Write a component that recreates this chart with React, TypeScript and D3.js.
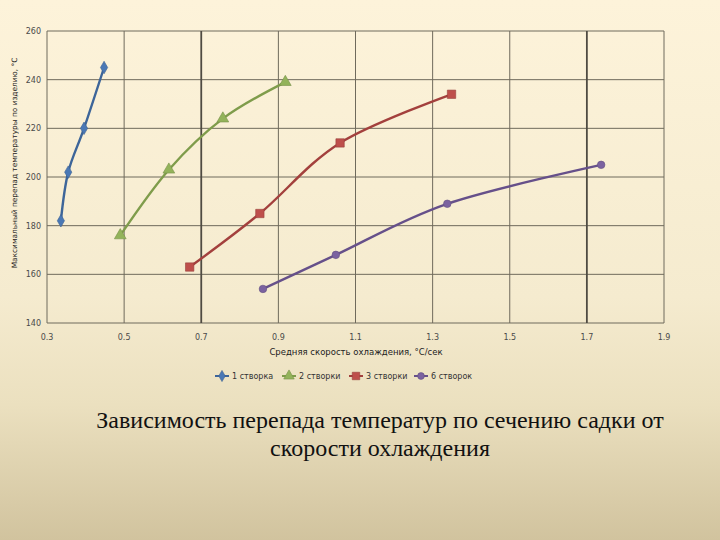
import React from "react";
import * as d3 from "d3";

const xTicks = [0.3, 0.5, 0.7, 0.9, 1.1, 1.3, 1.5, 1.7, 1.9];
const yTicks = [140, 160, 180, 200, 220, 240, 260];

const seriesNames = ["1 створка", "2 створки", "3 створки", "6 створок"];
const s1x = [0.336, 0.355, 0.396, 0.448];
const s1y = [182, 202, 220, 245];
const s2x = [0.49, 0.616, 0.756, 0.918];
const s2y = [176, 203, 224, 239];
const s3x = [0.67, 0.852, 1.06, 1.349];
const s3y = [163, 185, 214, 234];
const s4x = [0.86, 1.049, 1.338, 1.737];
const s4y = [154, 168, 189, 205];

const colors = ["#4a78b5", "#93b35a", "#be4f4b", "#7b62a0"];
const strokes = ["#3d6599", "#7f9c4b", "#a3403d", "#66508a"];
const markers = ["diamond", "triangle", "square", "circle"];

const xTitle = "Средняя скорость охлаждения, °С/сек";
const yTitle = "Максимальный перепад температуры по изделию, °С";
const caption1 = "Зависимость перепада температур по сечению садки от";
const caption2 = "скорости охлаждения";

const W = 720, H = 540;
const left = 47, right = 664, top = 31, bottom = 323;

function Marker({ kind, x, y, fill, size }: { kind: string; x: number; y: number; fill: string; size: number }) {
  const symType =
    kind === "diamond" ? d3.symbolDiamond : kind === "triangle" ? d3.symbolTriangle : kind === "square" ? d3.symbolSquare : d3.symbolCircle;
  const p = d3.symbol().type(symType).size(size)() as string;
  return <path d={p} transform={`translate(${x},${y})`} fill={fill} stroke={d3.color(fill)!.darker(0.6).toString()} strokeWidth={0.6} />;
}

export default function App() {
  const x = d3.scaleLinear().domain([0.3, 1.9]).range([left, right]);
  const y = d3.scaleLinear().domain([140, 260]).range([bottom, top]);
  const data = [
    s1x.map((v, i) => [v, s1y[i]]),
    s2x.map((v, i) => [v, s2y[i]]),
    s3x.map((v, i) => [v, s3y[i]]),
    s4x.map((v, i) => [v, s4y[i]]),
  ] as [number, number][][];
  const line = d3
    .line<[number, number]>()
    .x((d) => x(d[0]))
    .y((d) => y(d[1]))
    .curve(d3.curveCatmullRom.alpha(0));
  const sizes = [45, 60, 70, 45];
  const legendX = [222, 289, 356, 421];
  const legendY = 376;

  return (
    <svg width={W} height={H} style={{ position: "absolute", left: 0, top: 0 }}>
      <defs>
        <linearGradient id="bg" x1="0" y1="0" x2="0" y2="1">
          <stop offset="0" stopColor="#fdf3da" />
          <stop offset="0.55" stopColor="#f5ebcf" />
          <stop offset="0.75" stopColor="#ebe0bf" />
          <stop offset="1" stopColor="#d1c39e" />
        </linearGradient>
      </defs>
      <rect x={0} y={0} width={W} height={H} fill="url(#bg)" />
      {/* grid */}
      {yTicks.map((t) => (
        <line key={"gy" + t} x1={left} x2={right} y1={y(t)} y2={y(t)} stroke="#6f6a5c" strokeWidth={1} />
      ))}
      {xTicks.map((t) => (
        <line
          key={"gx" + t}
          x1={x(t)}
          x2={x(t)}
          y1={top}
          y2={bottom}
          stroke={t === 0.7 || t === 1.7 ? "#4f4b42" : "#6f6a5c"}
          strokeWidth={t === 0.7 || t === 1.7 ? 1.8 : 1}
        />
      ))}
      {/* tick labels */}
      {yTicks.map((t) => (
        <text key={"ty" + t} x={41} y={y(t) + 3} textAnchor="end" fontFamily="DejaVu Sans" fontSize={8} fill="#4a4a4a">
          {t}
        </text>
      ))}
      {xTicks.map((t) => (
        <text key={"tx" + t} x={x(t)} y={340} textAnchor="middle" fontFamily="DejaVu Sans" fontSize={8} fill="#4a4a4a">
          {t.toFixed(1)}
        </text>
      ))}
      <text x={356} y={355} textAnchor="middle" fontFamily="DejaVu Sans" fontSize={8.5} fill="#222">
        {xTitle}
      </text>
      <text
        transform={`translate(17,163) rotate(-90)`}
        textAnchor="middle"
        fontFamily="DejaVu Sans"
        fontSize={7.4}
        fill="#222"
      >
        {yTitle}
      </text>
      {/* series */}
      {data.map((d, i) => (
        <path key={"l" + i} d={line(d) as string} fill="none" stroke={strokes[i]} strokeWidth={2.4} />
      ))}
      {data.map((d, i) =>
        d.map((p, j) => <Marker key={"m" + i + "-" + j} kind={markers[i]} x={x(p[0])} y={y(p[1])} fill={colors[i]} size={sizes[i]} />)
      )}
      {/* legend */}
      {seriesNames.map((n, i) => (
        <g key={"lg" + i}>
          <line x1={legendX[i] - 7} x2={legendX[i] + 7} y1={legendY} y2={legendY} stroke={strokes[i]} strokeWidth={2} />
          <Marker kind={markers[i]} x={legendX[i]} y={legendY} fill={colors[i]} size={sizes[i] * 0.8} />
          <text x={legendX[i] + 10} y={legendY + 3} fontFamily="DejaVu Sans" fontSize={8} fill="#333">
            {n}
          </text>
        </g>
      ))}
      {/* caption */}
      <text x={380} y={428} textAnchor="middle" fontFamily="Liberation Serif" fontSize={24} fill="#111">
        {caption1}
      </text>
      <text x={380} y={456} textAnchor="middle" fontFamily="Liberation Serif" fontSize={24} fill="#111">
        {caption2}
      </text>
    </svg>
  );
}
